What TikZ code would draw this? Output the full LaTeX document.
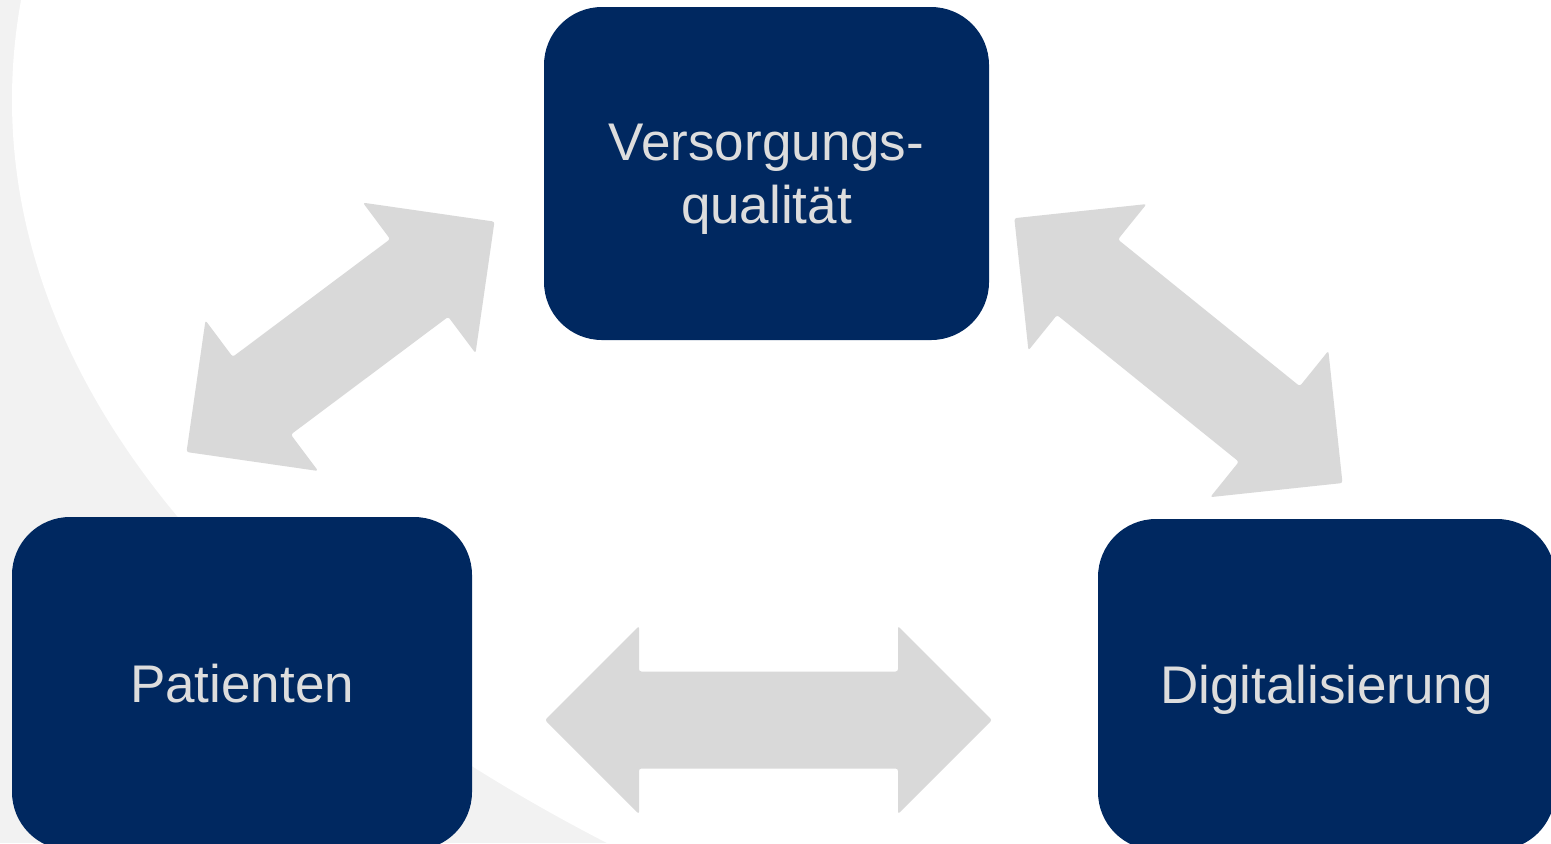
\documentclass[tikz,border=0pt]{standalone}
\usepackage{fontspec}
\setmainfont{Liberation Sans}
\definecolor{navy}{HTML}{002860}
\definecolor{arrowgray}{HTML}{D9D9D9}
\definecolor{txtgray}{HTML}{DDDDDD}
\definecolor{bggray}{HTML}{F2F2F2}
\newcommand\blockdblarrow[4]{% cx, cy, rotation (deg, ccw), tip-to-tip length
  \begin{scope}[shift={(#1,#2)}, rotate=#3]
    \pgfmathsetmacro\halfL{#4/2}
    \pgfmathsetmacro\neckX{#4/2-94}
    \fill[arrowgray, rounded corners=1.2pt]
      (-\halfL,0) -- (-\neckX,-94) -- (-\neckX,-48.5) -- (\neckX,-48.5) -- (\neckX,-94)
      -- (\halfL,0) -- (\neckX,94) -- (\neckX,48.5) -- (-\neckX,48.5) -- (-\neckX,94) -- cycle;
  \end{scope}}
\begin{document}
\begin{tikzpicture}[x=0.5pt, y=-0.5pt,
  box/.style={fill=navy, rounded corners=29pt, text=txtgray, align=center,
    font=\fontsize{26.5}{31.5}\selectfont, inner sep=0pt, text depth=0pt}]
\useasboundingbox (0,0) rectangle (1551,843);
\begin{scope}
  \clip (0,0) rectangle (1551,843);
  \fill[bggray] (0,0) rectangle (1551,843);
  \fill[white] (2012,100) ellipse [x radius=1000pt, y radius=522pt];
  \node[box, minimum width=222.5pt, minimum height=166.5pt] (vq) at (766.5,173.5) {Versorgungs-\\qualität};
  \node[box, minimum width=230pt, minimum height=166.5pt] (pat) at (242,683.5) {Patienten};
  \node[box, minimum width=228.5pt, minimum height=165.5pt] (dig) at (1326.5,684.5) {Digitalisierung};
  \blockdblarrow{340.5}{336.8}{36.8}{384.6}
  \blockdblarrow{1178.4}{350.6}{-38.9}{421.7}
  \blockdblarrow{768.5}{720}{0}{447}
\end{scope}
\end{tikzpicture}
\end{document}
